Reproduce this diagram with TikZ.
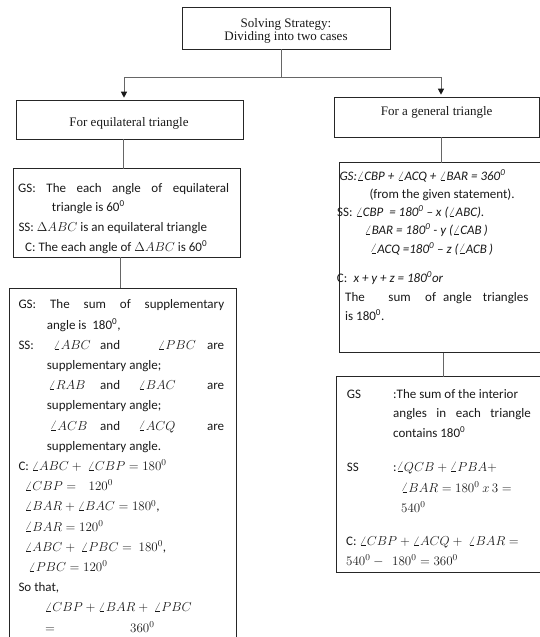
\RequirePackage{fix-cm}
\documentclass[tikz,border=0pt]{standalone}
\usepackage{fontspec}
\setmainfont{Carlito}
\newfontfamily\timesf{Liberation Serif}
\usetikzlibrary{arrows.meta}
\newcommand\putat[2]{\makebox[0pt][l]{\hspace{#1}#2}}
\newcommand\dg{\textsuperscript{0}}
\begin{document}
\begin{tikzpicture}[x=1pt,y=-1pt,
  box/.style={draw=black!85,line width=0.9pt,anchor=north west,inner sep=0pt,outer sep=0pt},
  conn/.style={draw=black!60,line width=1pt},
  arr/.style={conn,-{Triangle[length=6pt,width=6pt,color=black!90]},shorten >=3pt},
  tl/.style={anchor=base west,inner sep=0pt,font=\fontsize{13}{15}\selectfont,text=black!90},
  sl/.style={anchor=base,inner sep=0pt,font=\timesf\fontsize{13}{15}\selectfont,text=black!90}]
\useasboundingbox (0,0) rectangle (540,637);
\clip (0,0) rectangle (540,637);

% boxes
\node[box,minimum width=207.3pt,minimum height=41.7pt] (T) at (182.7,7.3) {};
\node[box,minimum width=227pt,minimum height=38.6pt] (L1) at (16,100.7) {};
\node[box,minimum width=204.7pt,minimum height=39.6pt] (R1) at (334.3,97.7) {};
\node[box,minimum width=226.7pt,minimum height=88.8pt] (L2) at (13.3,168.5) {};
\node[box,minimum width=227.4pt,minimum height=380pt] (L3) at (9.3,288.3) {};
\node[box,minimum width=215pt,minimum height=190pt] (R2) at (339.3,162.7) {};
\node[box,minimum width=215pt,minimum height=196pt] (R3) at (336.3,376.7) {};

% connectors
\coordinate (aT) at (281,77);
\coordinate (aL) at (124,77);
\coordinate (aR) at (441,77);
\draw[conn] (aT |- T.south) -- (aT);
\draw[conn] (aL) -- (aR);
\draw[arr] (aL) -- (aL |- L1.north);
\draw[arr] (aR) -- (aR |- R1.north);
\coordinate (c1) at (123.5,0);
\coordinate (c2) at (120,0);
\coordinate (c3) at (441.7,0);
\coordinate (c4) at (443.3,0);
\draw[conn] (c1 |- L1.south) -- (c1 |- L2.north);
\draw[conn] (c2 |- L2.south) -- (c2 |- L3.north);
\draw[conn] (c3 |- R1.south) -- (c3 |- R2.north);
\draw[conn] (c4 |- R2.south) -- (c4 |- R3.north);

% top texts
\node[sl] (t1) at (286,27.5) {Solving Strategy:};
\node[sl] (t2) at (286,40.8) {Dividing into two cases};
\node[sl] (t3) at (129,126.3) {For equilateral triangle};
\node[sl] (t4) at (436.7,115.5) {For a general triangle};

% left box 2
\node[tl] (a1) at (18,192) {\makebox[211pt][s]{GS: The each angle of equilateral}};
\node[tl] (a2) at (51.7,211.5) {triangle is 60\dg};
\node[tl] (a3) at (18.3,231.3) {SS: $\Delta ABC$ is an equilateral triangle};
\node[tl] (a4) at (25,251.7) {C: The each angle of $\Delta ABC$ is 60\dg};

% left box 3
\node[tl] (d1) at (18.3,308.8) {\makebox[205.7pt][s]{GS: The sum of supplementary}};
\node[tl] (d2) at (46.7,329) {angle is\ \ 180\dg,};
\node[tl] (d3) at (18.3,349.2) {\makebox[205.7pt][l]{\putat{0pt}{SS:}\putat{35pt}{$\angle ABC$}\putat{81.7pt}{and}\putat{139.7pt}{$\angle PBC$}\hfill are}};
\node[tl] (d4) at (46.7,369.4) {supplementary angle;};
\node[tl] (d5) at (46.7,389.6) {\makebox[177.3pt][l]{\putat{1.6pt}{$\angle RAB$}\putat{53.3pt}{and}\putat{91.6pt}{$\angle BAC$}\hfill are}};
\node[tl] (d6) at (46.7,409.8) {supplementary angle;};
\node[tl] (d7) at (46.7,430) {\makebox[177.3pt][l]{\putat{3.3pt}{$\angle ACB$}\putat{53.3pt}{and}\putat{91.6pt}{$\angle ACQ$}\hfill are}};
\node[tl] (d8) at (46.7,450.2) {supplementary angle.};
\node[tl] (d9) at (18.3,470.4) {C: $\angle ABC +\ \angle CBP = 180^0$};
\node[tl] (d10) at (25,490.6) {$\angle CBP =\ \ \ 120^0$};
\node[tl] (d11) at (25,510.8) {$\angle BAR + \angle BAC = 180^0$,};
\node[tl] (d12) at (25,531) {$\angle BAR = 120^0$};
\node[tl] (d13) at (25,551.2) {$\angle ABC +\ \angle PBC =\ 180^0$,};
\node[tl] (d14) at (28.3,571.4) {$\angle PBC = 120^0$};
\node[tl] (d15) at (18.3,591.6) {So that,};
\node[tl] (d16) at (45,611.8) {$\angle CBP + \angle BAR +\ \angle PBC$};
\node[tl] (d17a) at (45,632) {$=$};
\node[tl] (d17b) at (130,632) {$360^0$};

% right box 2
\node[tl] (b1) at (339.3,180.7) {\textit{GS:$\angle$CBP + $\angle$ACQ + $\angle$BAR = 360\dg}};
\node[tl] (b2) at (369.3,198.3) {(from the given statement).};
\node[tl] (b3) at (337,216.7) {SS: \textit{$\angle$CBP\ \ = 180\dg\ – x ($\angle$ABC).}};
\node[tl] (b4) at (364.3,234.5) {\textit{$\angle$BAR = 180\dg\ - y ($\angle$CAB\,)}};
\node[tl] (b5) at (370,253) {\textit{$\angle$ACQ =180\dg\ – z ($\angle$ACB\,)}};
\node[tl] (b6) at (336.7,282) {\makebox[0pt][l]{C:}\hspace{16.6pt}\textit{x + y + z = 180\dg or}};
\node[tl] (b7) at (345,301) {\makebox[183.3pt][l]{\putat{0pt}{The}\putat{43.3pt}{sum}\putat{80pt}{of}\putat{98pt}{angle}\hfill triangles}};
\node[tl] (b8) at (345,320) {is 180\dg.};

% right box 3
\node[tl] (e1a) at (346.7,398) {GS};
\node[tl] (e1b) at (393,398) {:The sum of the interior};
\node[tl] (e2) at (393,417.3) {\makebox[137.7pt][s]{angles in each triangle}};
\node[tl] (e3) at (393,437.3) {contains 180\dg};
\node[tl] (e4a) at (346.7,471) {SS};
\node[tl] (e4b) at (393,471) {:$\angle QCB + \angle PBA +$};
\node[tl] (e5) at (401,492) {$\angle BAR = 180^0\ x\,3 =$};
\node[tl] (e6) at (401,512) {$540^0$};
\node[tl] (e7) at (346,545.7) {C: $\angle CBP + \angle ACQ +\ \angle BAR =$};
\node[tl] (e8) at (346,565.7) {$540^0 -\ \ 180^0 = 360^0$};
\end{tikzpicture}
\end{document}
